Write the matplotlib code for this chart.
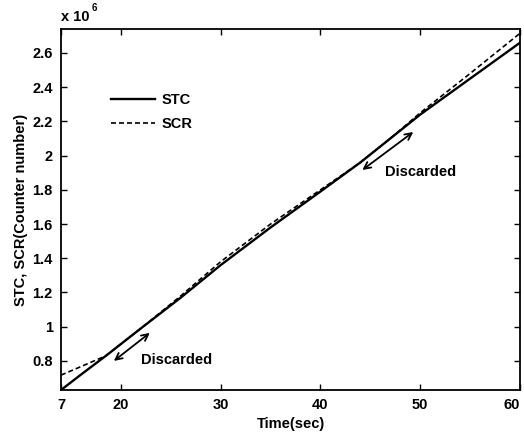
import numpy as np
import matplotlib
matplotlib.use("Agg")
import matplotlib.pyplot as plt

plt.rcParams['font.family'] = ['Liberation Sans', 'DejaVu Sans']

# ── Data (counter numbers in units of 1e6) ─────────────────
time_sec = [14, 16, 18.5, 22, 26, 30, 35, 40, 44, 47, 50, 55, 60]
stc = [0.63, 0.72, 0.83, 0.99, 1.17, 1.36, 1.58, 1.79, 1.96, 2.10, 2.24, 2.45, 2.66]
scr = [0.717, 0.767, 0.83, 0.99, 1.18, 1.38, 1.60, 1.80, 1.96, 2.10, 2.25, 2.48, 2.715]

x_ticks = [14, 20, 30, 40, 50, 60]
x_tick_labels = ['7', '20', '30', '40', '50', '60']
y_ticks = [0.8, 1.0, 1.2, 1.4, 1.6, 1.8, 2.0, 2.2, 2.4, 2.6]
y_tick_labels = ['0.8', '1', '1.2', '1.4', '1.6', '1.8', '2', '2.2', '2.4', '2.6']

# discarded intervals: (arrow start, arrow end, text position)
discarded = [
    ((19.3, 0.80), (22.9, 0.964), (22.0, 0.806)),
    ((44.2, 1.916), (49.3, 2.138), (46.5, 1.905)),
]

fig = plt.figure(figsize=(5.24, 4.4), dpi=100)
ax = fig.add_axes([0.1164, 0.1136, 0.876, 0.8205])

ax.plot(time_sec, stc, color='black', lw=1.7, label='STC')
ax.plot(time_sec, scr, color='black', lw=1.2, linestyle=(0, (3, 1.8)), label='SCR')

for start, end, txt in discarded:
    ax.annotate('', xy=end, xytext=start,
                arrowprops=dict(arrowstyle='<->', color='black', lw=1.3,
                                mutation_scale=12, shrinkA=0, shrinkB=0))
    ax.text(txt[0], txt[1], 'Discarded', ha='left', va='center',
            fontsize=10.5, fontweight='bold')

ax.set_xlim(14, 60)
ax.set_ylim(0.63, 2.74)
ax.set_xticks(x_ticks)
ax.set_xticklabels(x_tick_labels)
ax.set_yticks(y_ticks)
ax.set_yticklabels(y_tick_labels)
ax.tick_params(direction='in', top=True, right=True, length=4, width=1,
               labelsize=10.5, pad=6)
for lbl in ax.get_xticklabels() + ax.get_yticklabels():
    lbl.set_fontweight('bold')
ax.get_xticklabels()[-1].set_horizontalalignment('right')
for sp in ax.spines.values():
    sp.set_linewidth(1.3)

ax.set_xlabel('Time(sec)', fontsize=10.5, fontweight='bold', labelpad=3)
ax.set_ylabel('STC, SCR(Counter number)', fontsize=10.5, fontweight='bold', labelpad=3)

# MATLAB-style exponent above the y axis
ax.text(0.0, 1.015, 'x 10', transform=ax.transAxes, ha='left', va='bottom',
        fontsize=10.5, fontweight='bold')
ax.text(0.066, 1.045, '6', transform=ax.transAxes, ha='left', va='bottom',
        fontsize=7, fontweight='bold')

ax.legend(loc='upper left', bbox_to_anchor=(0.08, 0.86), frameon=False,
          handlelength=3.0, handletextpad=0.5, labelspacing=0.7,
          prop={'size': 10.5, 'weight': 'bold'})

plt.savefig('out.png', dpi=100)
plt.close()
